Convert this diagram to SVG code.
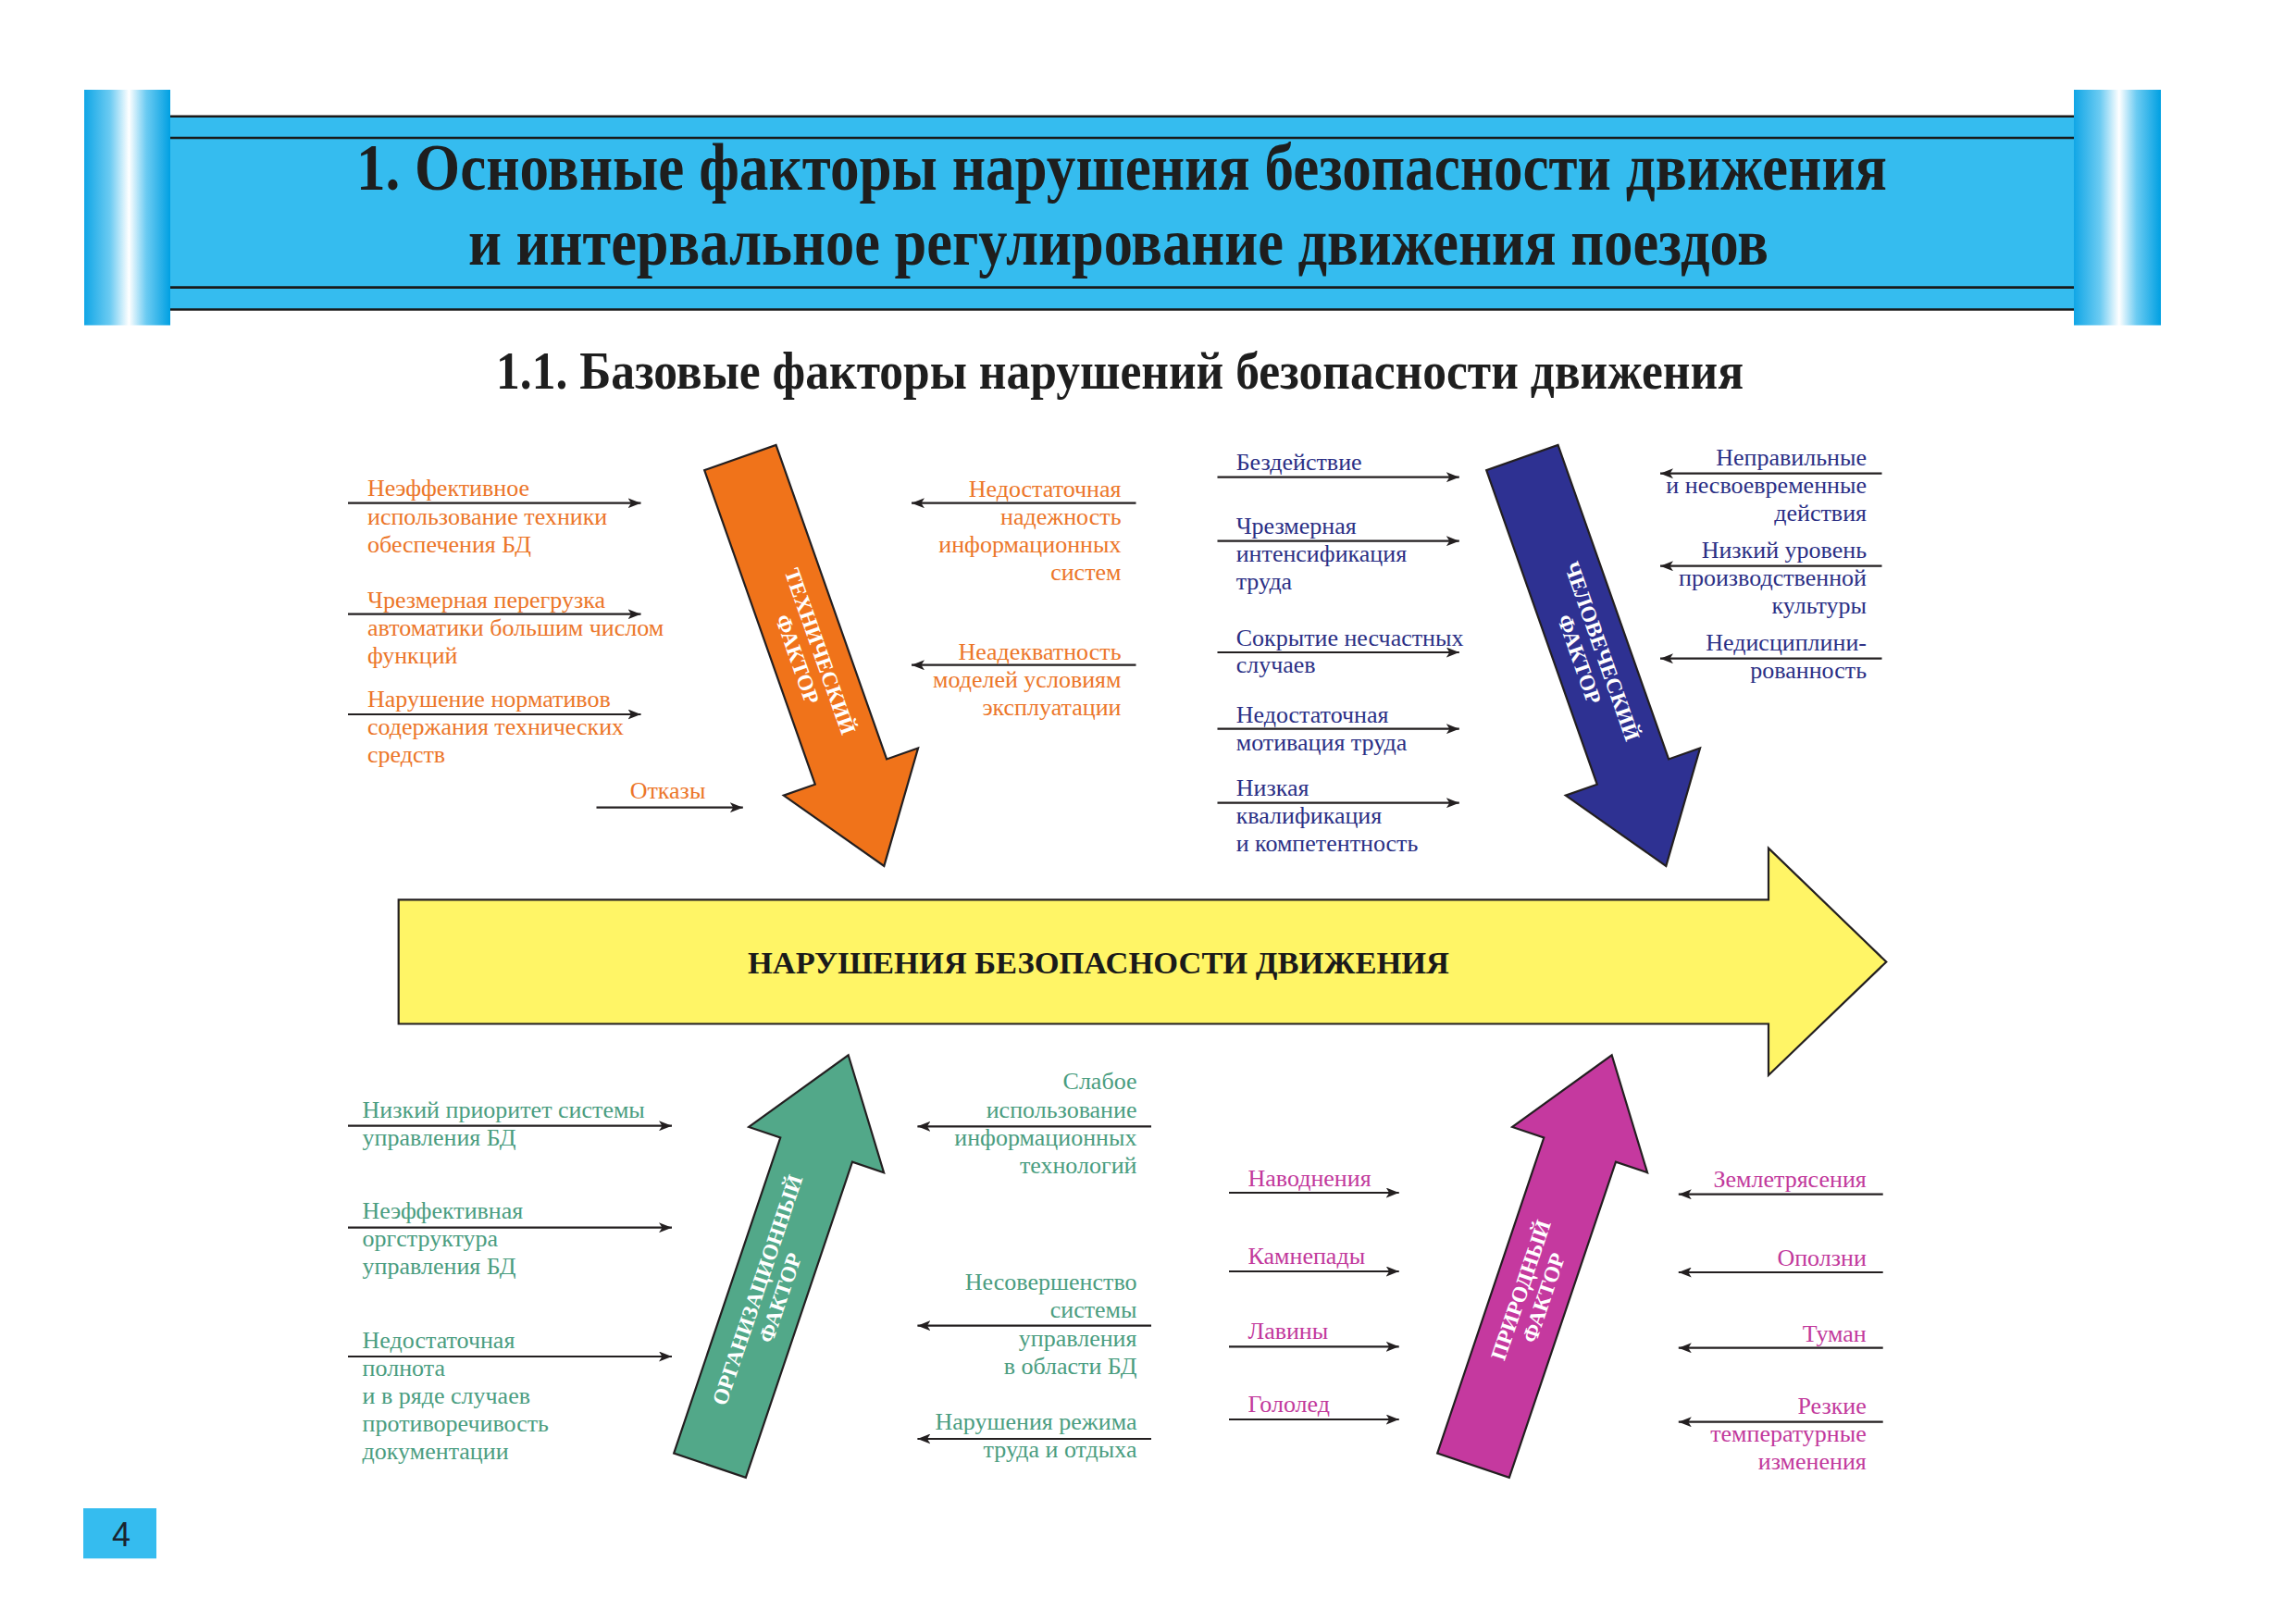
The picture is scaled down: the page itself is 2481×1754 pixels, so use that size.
<svg xmlns="http://www.w3.org/2000/svg" width="2481" height="1754" viewBox="0 0 2481 1754">
<defs>
  <linearGradient id="bar" x1="0" y1="0" x2="1" y2="0">
    <stop offset="0" stop-color="#10A6E6"/>
    <stop offset="0.3" stop-color="#6CCBF2"/>
    <stop offset="0.52" stop-color="#FFFFFF"/>
    <stop offset="0.72" stop-color="#6CCBF2"/>
    <stop offset="1" stop-color="#00A0E2"/>
  </linearGradient>
  <marker id="ah" markerUnits="userSpaceOnUse" markerWidth="15" markerHeight="11" refX="14" refY="5.5" orient="auto">
    <path d="M0,0 L14,5.5 L0,11 L3.5,5.5 z" fill="#231F20"/>
  </marker>
  <polygon id="fa" points="0,-41 360,-41 360,-77 468,0 360,77 360,41 0,41"/>
</defs>
<style>
  .t{font-family:"Liberation Serif","Times New Roman",serif;font-size:26px}
  .e{text-anchor:end}
  .or{fill:#EC7629}
  .bl{fill:#2B2F85}
  .gr{fill:#4A9D80}
  .mg{fill:#C2399C}
  .ft{font-family:"Liberation Serif","Times New Roman",serif;font-size:23.5px;font-weight:bold;fill:#FFFFFF;text-anchor:middle}
  .arr{stroke:#231F20;stroke-width:2.2}
  #connectors line{stroke:#231F20;stroke-width:2.2;marker-end:url(#ah)}
  .hl{stroke:#1A1A1A;stroke-width:2.6}
</style>
<rect width="2481" height="1754" fill="#FFFFFF"/>

<g id="header">
  <rect x="184" y="125" width="2057" height="210" fill="#35BCEF"/>
  <line class="hl" x1="184" y1="125.8" x2="2241" y2="125.8"/>
  <line class="hl" x1="184" y1="149" x2="2241" y2="149"/>
  <line class="hl" x1="184" y1="310.6" x2="2241" y2="310.6"/>
  <line class="hl" x1="184" y1="334.5" x2="2241" y2="334.5"/>
  <rect x="91" y="97" width="93" height="254.5" fill="url(#bar)"/>
  <rect x="2241" y="97" width="94" height="254.5" fill="url(#bar)"/>
  <text x="1212" y="204.6" text-anchor="middle" textLength="1654" lengthAdjust="spacingAndGlyphs" style="font-family:'Liberation Serif','Times New Roman',serif;font-size:72px;font-weight:bold;fill:#1E1E1E">1. Основные факторы нарушения безопасности движения</text>
  <text x="1208.5" y="286" text-anchor="middle" textLength="1405" lengthAdjust="spacingAndGlyphs" style="font-family:'Liberation Serif','Times New Roman',serif;font-size:72px;font-weight:bold;fill:#1E1E1E">и интервальное регулирование движения поездов</text>
</g>

<text id="subtitle" x="1210" y="420.4" text-anchor="middle" textLength="1348" lengthAdjust="spacingAndGlyphs" style="font-family:'Liberation Serif','Times New Roman',serif;font-size:56px;font-weight:bold;fill:#1E1E1E">1.1. Базовые факторы нарушений безопасности движения</text>

<g id="main-arrow">
  <polygon class="arr" points="430.7,972.3 1911,972.3 1911,916.7 2038.3,1039.5 1911,1162 1911,1106.5 430.7,1106.5" fill="#FFF566"/>
  <text x="1187" y="1051.7" text-anchor="middle" textLength="758" lengthAdjust="spacingAndGlyphs" style="font-family:'Liberation Serif','Times New Roman',serif;font-size:33px;font-weight:bold;fill:#1A1A1A">НАРУШЕНИЯ БЕЗОПАСНОСТИ ДВИЖЕНИЯ</text>
</g>

<g id="technical-factor" transform="translate(799.85,494.5) rotate(70.6)">
  <use href="#fa" class="arr" fill="#F0731A"/>
  <text class="ft" x="226" y="-4">ТЕХНИЧЕСКИЙ</text>
  <text class="ft" x="226" y="22">ФАКТОР</text>
</g>
<g id="human-factor" transform="translate(1644.85,494.5) rotate(70.6)">
  <use href="#fa" class="arr" fill="#2E3192"/>
  <text class="ft" x="226" y="-4">ЧЕЛОВЕЧЕСКИЙ</text>
  <text class="ft" x="226" y="22">ФАКТОР</text>
</g>
<g id="organizational-factor" transform="translate(767,1583.7) rotate(-71.35)">
  <use href="#fa" class="arr" fill="#52A889"/>
  <text class="ft" x="196" y="-4">ОРГАНИЗАЦИОННЫЙ</text>
  <text class="ft" x="196" y="22">ФАКТОР</text>
</g>
<g id="natural-factor" transform="translate(1592,1583.7) rotate(-71.35)">
  <use href="#fa" class="arr" fill="#C5399F"/>
  <text class="ft" x="196" y="-4">ПРИРОДНЫЙ</text>
  <text class="ft" x="196" y="22">ФАКТОР</text>
</g>

<g id="connectors">
  <line x1="376" y1="543.7" x2="692.5" y2="543.7"/>
  <line x1="376" y1="663.7" x2="692.5" y2="663.7"/>
  <line x1="376" y1="772" x2="692.5" y2="772"/>
  <line x1="644.5" y1="872.7" x2="802.8" y2="872.7"/>
  <line x1="1227.5" y1="543.7" x2="985" y2="543.7"/>
  <line x1="1227.5" y1="718.7" x2="985" y2="718.7"/>
  <line x1="1315.5" y1="515.7" x2="1576.8" y2="515.7"/>
  <line x1="1315.5" y1="584.7" x2="1576.8" y2="584.7"/>
  <line x1="1315.5" y1="705" x2="1576.8" y2="705"/>
  <line x1="1315.5" y1="787.7" x2="1576.8" y2="787.7"/>
  <line x1="1315.5" y1="867.7" x2="1576.8" y2="867.7"/>
  <line x1="2033.5" y1="511.7" x2="1794" y2="511.7"/>
  <line x1="2033.5" y1="611.7" x2="1794" y2="611.7"/>
  <line x1="2033.5" y1="711.7" x2="1794" y2="711.7"/>
  <line x1="376" y1="1216.7" x2="726" y2="1216.7"/>
  <line x1="376" y1="1326.7" x2="726" y2="1326.7"/>
  <line x1="376" y1="1466" x2="726" y2="1466"/>
  <line x1="1244" y1="1217.3" x2="991.4" y2="1217.3"/>
  <line x1="1244" y1="1432.7" x2="991.4" y2="1432.7"/>
  <line x1="1244" y1="1555" x2="991.4" y2="1555"/>
  <line x1="1328" y1="1289" x2="1511.7" y2="1289"/>
  <line x1="1328" y1="1374" x2="1511.7" y2="1374"/>
  <line x1="1328" y1="1455.3" x2="1511.7" y2="1455.3"/>
  <line x1="1328" y1="1534" x2="1511.7" y2="1534"/>
  <line x1="2034.7" y1="1290.7" x2="1813.8" y2="1290.7"/>
  <line x1="2034.7" y1="1375" x2="1813.8" y2="1375"/>
  <line x1="2034.7" y1="1456.7" x2="1813.8" y2="1456.7"/>
  <line x1="2034.7" y1="1536.7" x2="1813.8" y2="1536.7"/>
</g>

<g id="tech-causes-left" class="t or">
  <text x="397" y="536">Неэффективное</text>
  <text x="397" y="566.7">использование техники</text>
  <text x="397" y="596.7">обеспечения БД</text>
  <text x="397" y="656.7">Чрезмерная перегрузка</text>
  <text x="397" y="687.3">автоматики большим числом</text>
  <text x="397" y="716.7">функций</text>
  <text x="397" y="764.3">Нарушение нормативов</text>
  <text x="397" y="794.3">содержания технических</text>
  <text x="397" y="824">средств</text>
  <text x="680.7" y="863.3">Отказы</text>
</g>
<g id="tech-causes-right" class="t or e">
  <text x="1211.5" y="536.7">Недостаточная</text>
  <text x="1211.5" y="567.3">надежность</text>
  <text x="1211.5" y="597.3">информационных</text>
  <text x="1211.5" y="627.3">систем</text>
  <text x="1211.5" y="712.7">Неадекватность</text>
  <text x="1211.5" y="742.7">моделей условиям</text>
  <text x="1211.5" y="773.3">эксплуатации</text>
</g>
<g id="human-causes-left" class="t bl">
  <text x="1335.7" y="508.3">Бездействие</text>
  <text x="1335.7" y="577.3">Чрезмерная</text>
  <text x="1335.7" y="607.3">интенсификация</text>
  <text x="1335.7" y="636.7">труда</text>
  <text x="1335.7" y="697.7">Сокрытие несчастных</text>
  <text x="1335.7" y="727.3">случаев</text>
  <text x="1335.7" y="780.7">Недостаточная</text>
  <text x="1335.7" y="810.7">мотивация труда</text>
  <text x="1335.7" y="860">Низкая</text>
  <text x="1335.7" y="890">квалификация</text>
  <text x="1335.7" y="920">и компетентность</text>
</g>
<g id="human-causes-right" class="t bl e">
  <text x="2017" y="503.3">Неправильные</text>
  <text x="2017" y="533.3">и несвоевременные</text>
  <text x="2017" y="563.3">действия</text>
  <text x="2017" y="602.7">Низкий уровень</text>
  <text x="2017" y="632.7">производственной</text>
  <text x="2017" y="662.7">культуры</text>
  <text x="2017" y="702.7">Недисциплини-</text>
  <text x="2017" y="732.7">рованность</text>
</g>
<g id="org-causes-left" class="t gr">
  <text x="391.6" y="1208.3">Низкий приоритет системы</text>
  <text x="391.6" y="1238">управления БД</text>
  <text x="391.6" y="1316.7">Неэффективная</text>
  <text x="391.6" y="1346.7">оргструктура</text>
  <text x="391.6" y="1376.7">управления БД</text>
  <text x="391.6" y="1457.3">Недостаточная</text>
  <text x="391.6" y="1487.3">полнота</text>
  <text x="391.6" y="1517.3">и в ряде случаев</text>
  <text x="391.6" y="1547.3">противоречивость</text>
  <text x="391.6" y="1577.3">документации</text>
</g>
<g id="org-causes-right" class="t gr e">
  <text x="1228.5" y="1177.3">Слабое</text>
  <text x="1228.5" y="1208.3">использование</text>
  <text x="1228.5" y="1238.3">информационных</text>
  <text x="1228.5" y="1268.3">технологий</text>
  <text x="1228.5" y="1394">Несовершенство</text>
  <text x="1228.5" y="1424">системы</text>
  <text x="1228.5" y="1455">управления</text>
  <text x="1228.5" y="1485">в области БД</text>
  <text x="1228.5" y="1545">Нарушения режима</text>
  <text x="1228.5" y="1575">труда и отдыха</text>
</g>
<g id="nature-causes-left" class="t mg">
  <text x="1348.5" y="1281.7">Наводнения</text>
  <text x="1348.5" y="1366">Камнепады</text>
  <text x="1348.5" y="1447.3">Лавины</text>
  <text x="1348.5" y="1526">Гололед</text>
</g>
<g id="nature-causes-right" class="t mg e">
  <text x="2016.8" y="1283.3">Землетрясения</text>
  <text x="2016.8" y="1367.7">Оползни</text>
  <text x="2016.8" y="1450">Туман</text>
  <text x="2016.8" y="1528.3">Резкие</text>
  <text x="2016.8" y="1558.3">температурные</text>
  <text x="2016.8" y="1588.3">изменения</text>
</g>

<g id="page-number">
  <rect x="90" y="1630" width="79" height="54.3" fill="#35BCEF"/>
  <text x="131" y="1671" text-anchor="middle" style="font-family:'Liberation Sans',Arial,sans-serif;font-size:36px;fill:#1A2430">4</text>
</g>
</svg>
